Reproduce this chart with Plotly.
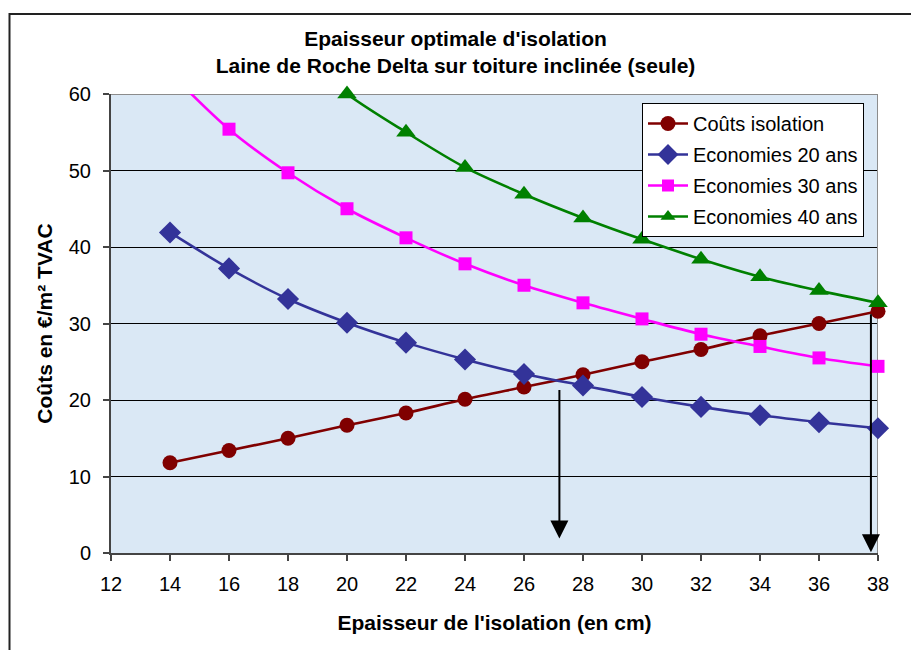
import plotly.graph_objects as go

# Insulation thickness (cm)
epaisseur = [14, 16, 18, 20, 22, 24, 26, 28, 30, 32, 34, 36, 38]

# Costs / savings in EUR per m2 (incl. VAT)
couts_isolation = [11.8, 13.4, 15.0, 16.7, 18.3, 20.1, 21.7, 23.3, 25.0, 26.6, 28.4, 30.0, 31.6]
economies_20 = [41.9, 37.2, 33.2, 30.1, 27.5, 25.3, 23.4, 21.9, 20.4, 19.1, 18.0, 17.1, 16.3]
economies_30 = [62.8, 55.4, 49.7, 45.0, 41.2, 37.8, 35.0, 32.7, 30.6, 28.6, 27.0, 25.5, 24.4]
economies_40 = [83.6, 74.2, 66.4, 60.0, 55.0, 50.4, 46.9, 43.8, 41.0, 38.4, 36.1, 34.3, 32.7]

# Vertical arrows marking the optimum thickness: (x, y start, y tip)
fleches = [(27.2, 21.5, 1.9), (37.76, 31.4, 0.1)]

X_RANGE = [12, 38]
Y_RANGE = [0, 60]

FONT = "Liberation Sans, Arial, sans-serif"

series = [
    ("Coûts isolation", couts_isolation, "#800000", "circle", 15),
    ("Economies 20 ans", economies_20, "#333399", "diamond", 17),
    ("Economies 30 ans", economies_30, "#FF00FF", "square", 13),
    ("Economies 40 ans", economies_40, "#008000", "triangle-up", 17),
]

fig = go.Figure()
for name, values, color, symbol, size in series:
    # markers beyond the visible scale are hidden, the line still runs off the top
    sizes = [size if v <= Y_RANGE[1] else 0 for v in values]
    fig.add_trace(go.Scatter(
        x=epaisseur, y=values, name=name, mode="lines+markers",
        line=dict(color=color, width=2.6, shape="spline", smoothing=0.9),
        marker=dict(symbol=symbol, size=sizes, color=color, opacity=1,
                    line=dict(width=0)),
        cliponaxis=False, legendgroup=name,
    ))

annotations = []
for x, y0, y1 in fleches:
    annotations.append(dict(
        x=x, y=y1, ax=x, ay=y0, xref="x", yref="y", axref="x", ayref="y",
        text="", showarrow=True, arrowhead=2, arrowsize=1.8, arrowwidth=2,
        arrowcolor="black",
    ))

# plot-area geometry in pixels (for the outer frame)
W, H = 911, 650
ML, MR, MT, MB = 111, 33, 94, 97
pw, ph = W - ML - MR, H - MT - MB


def px_x(p):
    return (p - ML) / pw


def px_y(p):
    return (H - MB - p) / ph


shapes = [
    # outer chart frame (runs past the right and bottom edges of the page)
    dict(type="rect", xref="paper", yref="paper",
         x0=px_x(9.5), x1=px_x(930), y0=px_y(670), y1=px_y(14),
         line=dict(color="#222222", width=2), fillcolor="rgba(0,0,0,0)", layer="below"),
    # grey plot-area border on top and right
    dict(type="line", xref="x", yref="y", x0=12, x1=38, y0=60, y1=60,
         line=dict(color="#8c8c8c", width=2), layer="between"),
    dict(type="line", xref="x", yref="y", x0=38, x1=38, y0=0, y1=60,
         line=dict(color="#8c8c8c", width=2), layer="between"),
]

fig.update_layout(
    width=W, height=H,
    margin=dict(l=ML, r=MR, t=MT, b=MB),
    paper_bgcolor="white",
    plot_bgcolor="#dae8f5",
    font=dict(family=FONT, size=20, color="black"),
    title=dict(
        text="<b>Epaisseur optimale d'isolation<br>Laine de Roche Delta sur toiture inclinée (seule)</b>",
        font=dict(family=FONT, size=21, color="black"),
        x=0.5, xref="container", xanchor="center",
        y=1 - 46 / H, yref="container", yanchor="top",
    ),
    xaxis=dict(
        range=X_RANGE, dtick=2, tick0=12,
        showline=True, linecolor="#444444", linewidth=2,
        ticks="outside", ticklen=6, tickwidth=1.5, tickcolor="#444444",
        showgrid=False, zeroline=False,
        tickfont=dict(size=20), ticklabelstandoff=6,
        title=dict(text="<b>Epaisseur de l'isolation (en cm)</b>",
                   font=dict(size=21), standoff=21),
    ),
    yaxis=dict(
        range=Y_RANGE, dtick=10, tick0=0,
        showline=True, linecolor="#444444", linewidth=2,
        ticks="outside", ticklen=6, tickwidth=1.5, tickcolor="#444444",
        showgrid=True, gridcolor="black", gridwidth=1, zeroline=False,
        tickfont=dict(size=20), ticklabelstandoff=8,
        title=dict(text="<b>Coûts en €/m² TVAC</b>",
                   font=dict(size=21), standoff=10),
    ),
    legend=dict(
        x=px_x(642), y=px_y(103), xanchor="left", yanchor="top",
        bgcolor="white", bordercolor="black", borderwidth=1,
        font=dict(size=20), tracegroupgap=2,
        itemwidth=40,
    ),
    shapes=shapes,
    annotations=annotations,
    showlegend=True,
)

fig.write_html("out.html")
